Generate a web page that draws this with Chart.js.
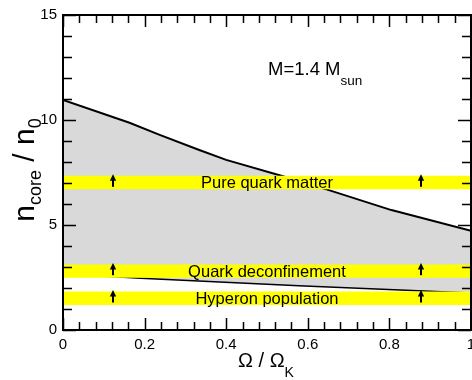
<!DOCTYPE html>
<html>
<head>
<meta charset="utf-8">
<script src="https://cdn.jsdelivr.net/npm/chart.js@4.4.1/dist/chart.umd.min.js"></script>
<style>
  body { margin: 0; background: #fff; }
  canvas { display: block; }
</style>
</head>
<body>
<canvas id="coreChart" width="472" height="380"></canvas>
<script>
// upper boundary of the core density band
const omega = [0, 0.163, 0.237, 0.334, 0.40, 0.537, 0.644, 0.805, 1.0];
const nUpper = [10.95, 9.87, 9.29, 8.57, 8.10, 7.33, 6.71, 5.71, 4.72];

// lower boundary
const omegaLow = [0, 0.19, 0.578, 0.87, 1.0];
const nLower = [2.68, 2.47, 2.11, 1.87, 1.76];

// yellow threshold bands
const bandNames = ['Pure quark matter', 'Quark deconfinement', 'Hyperon population'];
const bandLow = [6.70, 2.49, 1.19];
const bandHigh = [7.35, 3.12, 1.83];
const arrowX = [0.122, 0.878];
const labelX = 0.5;

const xTicks = [0, 0.2, 0.4, 0.6, 0.8, 1];
const yTicks = [0, 5, 10, 15];

const FONT = '"Liberation Sans", Arial, Helvetica, sans-serif';

function pts(xs, ys) {
    return xs.map((x, i) => ({ x: x, y: ys[i] }));
}

const datasets = [];
bandNames.forEach((name, i) => {
    datasets.push({
        label: name,
        data: pts([0, 1], [bandHigh[i], bandHigh[i]]),
        borderWidth: 0,
        pointRadius: 0,
        fill: '+1',
        backgroundColor: '#ffff00',
        order: 0
    });
    datasets.push({
        label: name + ' low',
        data: pts([0, 1], [bandLow[i], bandLow[i]]),
        borderWidth: 0,
        pointRadius: 0,
        fill: false,
        order: 0
    });
});
datasets.push({
    label: 'upper',
    data: pts(omega, nUpper),
    borderColor: '#000',
    borderWidth: 2,
    pointRadius: 0,
    tension: 0,
    fill: '+1',
    backgroundColor: '#d9d9d9',
    order: 2
});
datasets.push({
    label: 'lower',
    data: pts(omegaLow, nLower),
    borderColor: '#000',
    borderWidth: 1.5,
    pointRadius: 0,
    tension: 0,
    fill: false,
    order: 1
});

// draws text pieces with sub-scripts, starting at x (local frame)
function drawParts(ctx, parts, x, y) {
    parts.forEach(p => {
        ctx.font = p.size + 'px ' + FONT;
        ctx.fillText(p.t, x, y + (p.dy || 0));
        x += ctx.measureText(p.t).width;
    });
}
function partsWidth(ctx, parts) {
    let w = 0;
    parts.forEach(p => {
        ctx.font = p.size + 'px ' + FONT;
        w += ctx.measureText(p.t).width;
    });
    return w;
}

const decorPlugin = {
    id: 'decor',
    afterDatasetsDraw(chart) {
        const ctx = chart.ctx;
        const xs = chart.scales.x, ys = chart.scales.y;
        ctx.save();
        ctx.fillStyle = '#000';
        ctx.strokeStyle = '#000';

        // arrows in every band
        bandNames.forEach((name, i) => {
            const top = ys.getPixelForValue(bandHigh[i]) - 1.5;
            const bot = ys.getPixelForValue(bandLow[i]) - 2.5;
            arrowX.forEach(ax => {
                const px = Math.round(xs.getPixelForValue(ax));
                ctx.fillRect(px - 1, top + 5, 2, bot - top - 5);
                ctx.beginPath();
                ctx.moveTo(px, top);
                ctx.lineTo(px + 3.2, top + 6.5);
                ctx.lineTo(px - 3.2, top + 6.5);
                ctx.closePath();
                ctx.fill();
            });
            // band label
            ctx.font = '16.5px ' + FONT;
            ctx.textAlign = 'center';
            ctx.textBaseline = 'alphabetic';
            const cy = (ys.getPixelForValue(bandHigh[i]) + ys.getPixelForValue(bandLow[i])) / 2;
            ctx.fillText(name, xs.getPixelForValue(labelX), cy + 5.5);
        });

        // mass label
        ctx.textAlign = 'left';
        drawParts(ctx, [
            { t: 'M=1.4 M', size: 18.5 },
            { t: 'sun', size: 13.5, dy: 10 }
        ], 268, 75);

        ctx.restore();
    },
    afterDraw(chart) {
        const ctx = chart.ctx;
        const a = chart.chartArea;
        const xs = chart.scales.x, ys = chart.scales.y;
        ctx.save();
        ctx.strokeStyle = '#000';
        ctx.lineWidth = 1.5;

        // inward ticks on all four sides
        ctx.beginPath();
        for (let k = 0; k <= 25; k++) {
            const v = k * 0.04;
            const px = Math.round(xs.getPixelForValue(v)) + 0.5;
            const len = (k % 5 === 0) ? 12 : 8;
            ctx.moveTo(px, a.bottom); ctx.lineTo(px, a.bottom - len);
            ctx.moveTo(px, a.top); ctx.lineTo(px, a.top + len);
        }
        for (let k = 0; k <= 15; k++) {
            const py = Math.round(ys.getPixelForValue(k)) + 0.5;
            const len = (k % 5 === 0) ? 13 : 9;
            ctx.moveTo(a.left, py); ctx.lineTo(a.left + len, py);
            ctx.moveTo(a.right, py); ctx.lineTo(a.right - len, py);
        }
        ctx.stroke();

        // frame
        ctx.lineWidth = 2;
        ctx.strokeRect(a.left, a.top, a.right - a.left, a.bottom - a.top);

        // axis titles
        ctx.fillStyle = '#000';
        ctx.textBaseline = 'alphabetic';
        ctx.textAlign = 'left';
        const xt = [
            { t: '\u03A9 / \u03A9', size: 20 },
            { t: 'K', size: 14, dy: 10 }
        ];
        drawParts(ctx, xt, 266 - partsWidth(ctx, xt) / 2, 367);

        const yt = [
            { t: 'n', size: 30 },
            { t: 'core', size: 18, dy: 7 },
            { t: ' / n', size: 30 },
            { t: '0', size: 18, dy: 7 }
        ];
        ctx.translate(34, 170);
        ctx.rotate(-Math.PI / 2);
        drawParts(ctx, yt, -partsWidth(ctx, yt) / 2, 0);
        ctx.restore();
    }
};

new Chart(document.getElementById('coreChart'), {
    type: 'line',
    data: { datasets: datasets },
    options: {
        responsive: false,
        devicePixelRatio: 1,
        animation: false,
        layout: { padding: { left: 0, top: 15, right: 1, bottom: 0 } },
        plugins: {
            legend: { display: false },
            tooltip: { enabled: false },
            filler: { drawTime: 'beforeDatasetDraw' }
        },
        scales: {
            x: {
                type: 'linear',
                min: 0,
                max: 1,
                border: { display: false },
                grid: { display: false, drawTicks: false },
                afterBuildTicks: s => { s.ticks = xTicks.map(v => ({ value: v })); },
                ticks: {
                    padding: 6,
                    maxRotation: 0,
                    color: '#000',
                    font: { size: 15, family: FONT },
                    callback: v => String(v)
                },
                afterFit: s => { s.height = 50; s.paddingLeft = 0; s.paddingRight = 0; }
            },
            y: {
                type: 'linear',
                min: 0,
                max: 15,
                border: { display: false },
                grid: { display: false, drawTicks: false },
                afterBuildTicks: s => { s.ticks = yTicks.map(v => ({ value: v })); },
                ticks: {
                    padding: 6,
                    color: '#000',
                    font: { size: 15, family: FONT },
                    callback: v => String(v)
                },
                afterFit: s => { s.width = 63; s.paddingTop = 0; s.paddingBottom = 0; }
            }
        }
    },
    plugins: [decorPlugin]
});
</script>
</body>
</html>
